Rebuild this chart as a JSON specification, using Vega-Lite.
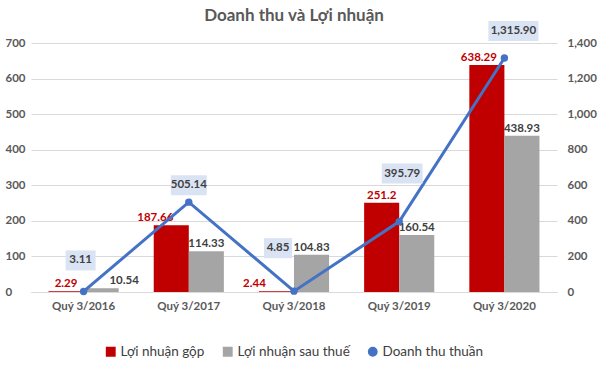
{
  "$schema": "https://vega.github.io/schema/vega-lite/v6.json",
  "width": 526,
  "height": 249,
  "padding": {"left": 5, "top": 6, "right": 5, "bottom": 5},
  "background": "white",
  "config": {"font": "Lato", "view": {"stroke": null}, "legend": {"layout": {"bottom": {"anchor": "middle"}}}},
  "title": {"text": "Doanh thu và Lợi nhuận", "fontSize": 17, "fontWeight": "bold", "color": "#595959", "anchor": "middle", "offset": -4},
  "data": {"values": [
    {"quy": "Quý 3/2016", "series": "Lợi nhuận gộp", "value": 2.29},
    {"quy": "Quý 3/2016", "series": "Lợi nhuận sau thuế", "value": 10.54},
    {"quy": "Quý 3/2016", "series": "Doanh thu thuần", "value": 3.11},
    {"quy": "Quý 3/2017", "series": "Lợi nhuận gộp", "value": 187.66},
    {"quy": "Quý 3/2017", "series": "Lợi nhuận sau thuế", "value": 114.33},
    {"quy": "Quý 3/2017", "series": "Doanh thu thuần", "value": 505.14},
    {"quy": "Quý 3/2018", "series": "Lợi nhuận gộp", "value": 2.44},
    {"quy": "Quý 3/2018", "series": "Lợi nhuận sau thuế", "value": 104.83},
    {"quy": "Quý 3/2018", "series": "Doanh thu thuần", "value": 4.85},
    {"quy": "Quý 3/2019", "series": "Lợi nhuận gộp", "value": 251.2},
    {"quy": "Quý 3/2019", "series": "Lợi nhuận sau thuế", "value": 160.54},
    {"quy": "Quý 3/2019", "series": "Doanh thu thuần", "value": 395.79},
    {"quy": "Quý 3/2020", "series": "Lợi nhuận gộp", "value": 638.29},
    {"quy": "Quý 3/2020", "series": "Lợi nhuận sau thuế", "value": 438.93},
    {"quy": "Quý 3/2020", "series": "Doanh thu thuần", "value": 1315.9}
  ]},
  "encoding": {
    "x": {"field": "quy", "type": "nominal", "sort": null,
      "scale": {"paddingInner": 0.3333, "paddingOuter": 0.1667},
      "axis": {"title": null, "labelAngle": 0, "labelFontSize": 11.5, "labelFontWeight": "bold", "labelColor": "#595959", "domainColor": "#d9d9d9", "ticks": false, "labelPadding": 8}}
  },
  "layer": [
    {
      "transform": [{"filter": "datum.series !== 'Doanh thu thuần'"}],
      "encoding": {
        "y": {"field": "value", "type": "quantitative", "scale": {"domain": [0, 700]},
          "axis": {"title": null, "values": [0, 100, 200, 300, 400, 500, 600, 700], "grid": true, "gridColor": "#d9d9d9", "domain": false, "ticks": false, "labelFontSize": 11.5, "labelFontWeight": "bold", "labelColor": "#595959", "labelAlign": "left", "labelPadding": 26}},
        "xOffset": {"field": "series", "type": "nominal", "sort": ["Lợi nhuận gộp", "Lợi nhuận sau thuế"]}
      },
      "layer": [
        {"mark": {"type": "bar"},
          "encoding": {"color": {"field": "series", "type": "nominal",
            "scale": {"domain": ["Lợi nhuận gộp", "Lợi nhuận sau thuế", "Doanh thu thuần"], "range": ["#c00000", "#a5a5a5", "#4472c4"]},
            "legend": {"title": null, "orient": "bottom", "direction": "horizontal", "labelFontSize": 13.5, "labelColor": "#404040", "symbolSize": 70, "labelOffset": 3, "columnPadding": 15, "offset": 33}}}},
        {"mark": {"type": "text", "baseline": "bottom", "dy": -2, "fontWeight": "bold", "fontSize": 11.5,
            "dx": {"expr": "datum.quy === 'Quý 3/2016' && datum.series === 'Lợi nhuận sau thuế' ? 23 : datum.quy === 'Quý 3/2017' && datum.series === 'Lợi nhuận gộp' ? -16 : datum.quy === 'Quý 3/2018' && datum.series === 'Lợi nhuận gộp' ? -22 : datum.quy === 'Quý 3/2020' && datum.series === 'Lợi nhuận gộp' ? -8 : 0"}},
          "encoding": {"text": {"field": "value", "type": "nominal"},
            "color": {"condition": {"test": "datum.series === 'Lợi nhuận gộp'", "value": "#c00000"}, "value": "#404040"}}}
      ]
    },
    {
      "transform": [{"filter": "datum.series === 'Doanh thu thuần'"}],
      "encoding": {
        "y": {"field": "value", "type": "quantitative", "scale": {"domain": [0, 1400]},
          "axis": {"orient": "right", "title": null, "values": [0, 200, 400, 600, 800, 1000, 1200, 1400], "format": ",.0f", "grid": false, "domain": false, "ticks": false, "labelFontSize": 11.5, "labelFontWeight": "bold", "labelColor": "#595959", "labelPadding": 10}}
      },
      "layer": [
        {"mark": {"type": "line", "strokeWidth": 3},
          "encoding": {"color": {"field": "series", "type": "nominal"}}},
        {"mark": {"type": "point", "filled": true, "size": 55, "opacity": 1},
          "encoding": {"color": {"field": "series", "type": "nominal"},
            "shape": {"field": "series", "type": "nominal",
              "scale": {"domain": ["Lợi nhuận gộp", "Lợi nhuận sau thuế", "Doanh thu thuần"], "range": ["square", "square", "circle"]}}}},
        {"transform": [{"filter": "datum.quy === 'Quý 3/2016'"}],
          "layer": [
            {"mark": {"type": "point", "shape": "M-0.75,-0.5H0.75V0.5H-0.75Z", "size": 1600, "filled": true, "color": "#dae3f3", "opacity": 1, "xOffset": -3, "yOffset": -31}},
            {"mark": {"type": "text", "dx": -3, "dy": -31, "fontWeight": "bold", "fontSize": 11.5, "color": "#404040"}, "encoding": {"text": {"field": "value", "type": "quantitative", "format": ",.2f"}}}
          ]},
        {"transform": [{"filter": "datum.quy === 'Quý 3/2017'"}],
          "layer": [
            {"mark": {"type": "point", "shape": "M-0.9,-0.5H0.9V0.5H-0.9Z", "size": 1600, "filled": true, "color": "#dae3f3", "opacity": 1, "xOffset": 0, "yOffset": -17}},
            {"mark": {"type": "text", "dx": 0, "dy": -17, "fontWeight": "bold", "fontSize": 11.5, "color": "#404040"}, "encoding": {"text": {"field": "value", "type": "quantitative", "format": ",.2f"}}}
          ]},
        {"transform": [{"filter": "datum.quy === 'Quý 3/2018'"}],
          "layer": [
            {"mark": {"type": "point", "shape": "M-0.7,-0.5H0.7V0.5H-0.7Z", "size": 1600, "filled": true, "color": "#dae3f3", "opacity": 1, "xOffset": -16, "yOffset": -43}},
            {"mark": {"type": "text", "dx": -16, "dy": -43, "fontWeight": "bold", "fontSize": 11.5, "color": "#404040"}, "encoding": {"text": {"field": "value", "type": "quantitative", "format": ",.2f"}}}
          ]},
        {"transform": [{"filter": "datum.quy === 'Quý 3/2019'"}],
          "layer": [
            {"mark": {"type": "point", "shape": "M-1.02,-0.5H1.02V0.5H-1.02Z", "size": 1600, "filled": true, "color": "#dae3f3", "opacity": 1, "xOffset": 3, "yOffset": -48}},
            {"mark": {"type": "text", "dx": 3, "dy": -48, "fontWeight": "bold", "fontSize": 11.5, "color": "#404040"}, "encoding": {"text": {"field": "value", "type": "quantitative", "format": ",.2f"}}}
          ]},
        {"transform": [{"filter": "datum.quy === 'Quý 3/2020'"}],
          "layer": [
            {"mark": {"type": "point", "shape": "M-1.25,-0.5H1.25V0.5H-1.25Z", "size": 1600, "filled": true, "color": "#dae3f3", "opacity": 1, "xOffset": 9, "yOffset": -27}},
            {"mark": {"type": "text", "dx": 9, "dy": -27, "fontWeight": "bold", "fontSize": 11.5, "color": "#404040"}, "encoding": {"text": {"field": "value", "type": "quantitative", "format": ",.2f"}}}
          ]}
      ]
    }
  ],
  "resolve": {"scale": {"y": "independent"}}
}
